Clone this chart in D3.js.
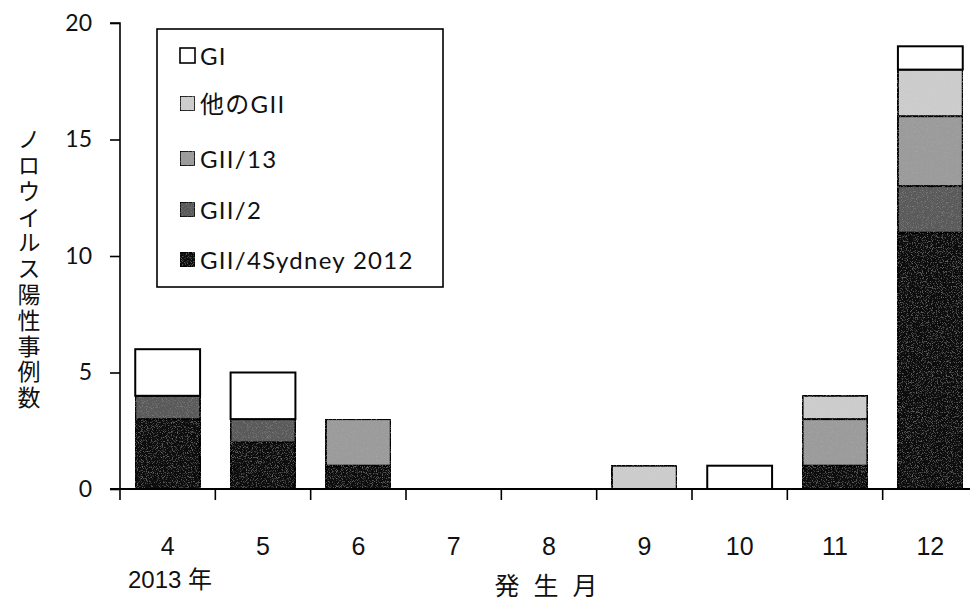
<!DOCTYPE html>
<html><head><meta charset="utf-8">
<script src="https://cdn.jsdelivr.net/npm/d3@7"></script>
<style>
html,body{margin:0;padding:0;background:#fff;}
svg{display:block;}
</style></head>
<body>
<svg id="chart" width="970" height="606"></svg>
<script>
// ---- data ----
const months = ["4","5","6","7","8","9","10","11","12"];
const seriesNames = ["GII/4Sydney 2012","GII/2","GII/13","他のGII","GI"];
const gii4   = [3, 2, 1, 0, 0, 0, 0, 1, 11];
const gii2   = [1, 1, 0, 0, 0, 0, 0, 0, 2];
const gii13  = [0, 0, 2, 0, 0, 0, 0, 2, 3];
const otherGII = [0, 0, 0, 0, 0, 1, 0, 1, 2];
const gi     = [2, 2, 0, 0, 0, 0, 1, 0, 1];
const yTicks = [0, 5, 10, 15, 20];
const yLabel = "ノロウイルス陽性事例数";
const xLabel = "発生月";
const yearLabel = "2013 年";

// ---- styling ----
const colors = {"GI":"#ffffff","他のGII":"#cdcdcd","GII/13":"#9b9b9b","GII/2":"#5a5a5a","GII/4Sydney 2012":"#0c0c0c"};
const seriesVals = [gii4, gii2, gii13, otherGII, gi];

const svg = d3.select("#chart");
const mLeft = 120, mBottom = 489, mTop = 23;

const y = d3.scaleLinear().domain([0, 20]).range([mBottom, mTop]);
const x = d3.scaleBand().domain(months).range([mLeft, 978]).paddingInner(0.32).paddingOuter(0.16);

// noise filter for texture
const defs = svg.append("defs");
const f = defs.append("filter").attr("id","grain").attr("x","0").attr("y","0").attr("width","1").attr("height","1");
f.append("feTurbulence").attr("type","fractalNoise").attr("baseFrequency","1.2").attr("numOctaves","1").attr("seed","3").attr("result","noise");
f.append("feColorMatrix").attr("in","noise").attr("type","matrix")
  .attr("values","0 0 0 0 0.5  0 0 0 0 0.5  0 0 0 0 0.5  0 0 0 -1.2 0.55").attr("result","n2");
f.append("feComposite").attr("in","n2").attr("in2","SourceGraphic").attr("operator","atop").attr("result","n3");
f.append("feMerge").selectAll("feMergeNode").data(["SourceGraphic","n3"]).enter().append("feMergeNode").attr("in",d=>d);

// stacked data
const rows = months.map((m,i)=>{const o={month:m}; seriesNames.forEach((s,k)=>o[s]=seriesVals[k][i]); return o;});
const stack = d3.stack().keys(seriesNames)(rows);

const g = svg.append("g");
stack.forEach(layer=>{
  g.selectAll(null).data(layer.filter(d=>d[1]-d[0]>0)).enter().append("rect")
    .attr("x", d=>x(d.data.month))
    .attr("width", x.bandwidth())
    .attr("y", d=>y(d[1]))
    .attr("height", d=>y(d[0])-y(d[1]))
    .attr("fill", colors[layer.key])
    .attr("stroke","#000").attr("stroke-width",2)
    .attr("filter", layer.key==="GI" ? null : "url(#grain)");
});

// y axis
const yAxis = d3.axisLeft(y).tickValues(yTicks).tickSize(10).tickPadding(18).tickFormat(d3.format("d"));
const ya = svg.append("g").attr("transform",`translate(${mLeft},0)`).call(yAxis);
ya.select(".domain").attr("stroke","#000").attr("stroke-width",1.6).attr("d",`M-10,${mTop}H0V${mBottom}`);
ya.selectAll(".tick line").attr("stroke","#000").attr("stroke-width",1.6);
ya.selectAll(".tick text").attr("font-family","Lato, 'Open Sans', sans-serif").attr("font-size",23).attr("fill","#111");

// x axis line + boundary ticks
const step = x.step();
svg.append("line").attr("x1",mLeft-10).attr("x2",970).attr("y1",mBottom).attr("y2",mBottom).attr("stroke","#000").attr("stroke-width",1.8);
svg.append("g").selectAll("line").data(d3.range(months.length+1)).enter().append("line")
  .attr("x1",i=>mLeft+i*step).attr("x2",i=>mLeft+i*step)
  .attr("y1",mBottom).attr("y2",mBottom+11).attr("stroke","#000").attr("stroke-width",1.6);
svg.append("g").selectAll("text").data(months).enter().append("text")
  .attr("x",d=>x(d)+x.bandwidth()/2).attr("y",555)
  .attr("text-anchor","middle").attr("font-family","'Liberation Sans', Arial, sans-serif").attr("font-size",25).attr("fill","#111")
  .text(d=>d);
svg.append("text").attr("x",128).attr("y",588).attr("font-family","'Liberation Sans', 'Noto Sans CJK JP', sans-serif").attr("font-size",24).attr("fill","#111").text(yearLabel);
svg.append("text").attr("x",553).attr("y",595).attr("text-anchor","middle").attr("font-family","'Noto Sans CJK JP', sans-serif").attr("font-size",25)
  .attr("letter-spacing",14).attr("fill","#111").text(xLabel);

// y label (vertical, upright)
svg.append("text").attr("x",29).attr("y",128)
  .attr("font-family","'Noto Sans CJK JP', sans-serif").attr("font-size",23).attr("fill","#111")
  .style("writing-mode","vertical-rl").style("text-orientation","upright")
  .attr("letter-spacing",2.8)
  .text(yLabel);

// legend
const lg = svg.append("g");
lg.append("rect").attr("x",157).attr("y",29).attr("width",286).attr("height",258).attr("fill","#fff").attr("stroke","#000").attr("stroke-width",1.6);
const legendOrder = ["GI","他のGII","GII/13","GII/2","GII/4Sydney 2012"];
const legendY = [56, 104, 159, 210, 260];
const li = lg.selectAll("g.item").data(legendOrder).enter().append("g").attr("class","item")
  .attr("transform",(d,i)=>`translate(180,${legendY[i]})`);
li.append("rect").attr("x",0).attr("y",-8).attr("width",15).attr("height",15)
  .attr("fill",d=>colors[d]).attr("stroke","#000").attr("stroke-width",1.6)
  .attr("filter",d=>d==="GI"?null:"url(#grain)");
li.append("text").attr("x",20).attr("y",8.5).attr("font-family","Lato, 'Noto Sans CJK JP', sans-serif").attr("font-size",24)
  .attr("letter-spacing",1.3).attr("fill","#111")
  .text(d=>d);
</script>
</body></html>
